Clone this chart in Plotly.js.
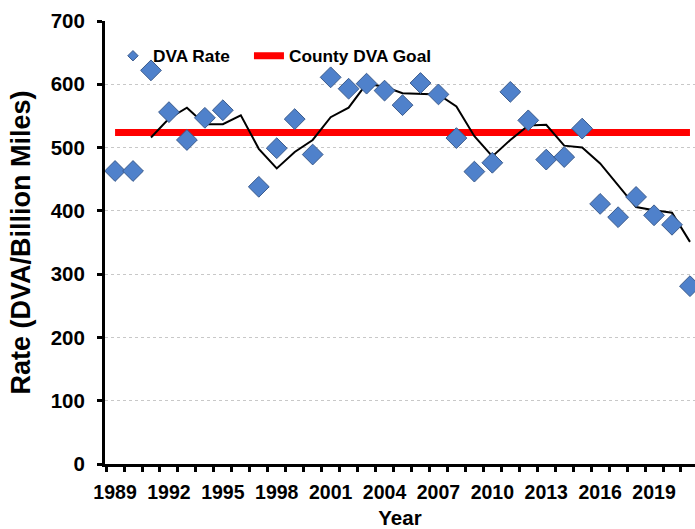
<!DOCTYPE html>
<html>
<head>
<meta charset="utf-8">
<script src="https://cdn.plot.ly/plotly-3.0.1.min.js"></script>
<style>html,body{margin:0;padding:0;background:#fff;}#chart{width:695px;height:529px;}</style>
</head>
<body>
<div id="chart"></div>
<script>
const years = [1989,1990,1991,1992,1993,1994,1995,1996,1997,1998,1999,2000,2001,2002,2003,2004,2005,2006,2007,2008,2009,2010,2011,2012,2013,2014,2015,2016,2017,2018,2019,2020,2021];
const dvaRate = [463,463,622,556,512,547,559,null,438,499,545,489,611,593,601,590,567,602,584,515,462,476,588,543,481,485,530,411,390,422,393,378,281];
const avgYears = [1991,1992,1993,1994,1995,1996,1997,1998,1999,2000,2001,2002,2003,2004,2005,2006,2007,2008,2009,2010,2011,2012,2013,2014,2015,2016,2017,2018,2019,2020,2021];
const movingAvg = [516,546,563,537,537,551,498,467,493,512,548,563,601,596,586,585,584,565,518,486,512,535,536,503,500,475,441,406,401,397,351];
const goalYears = [1989,2021];
const goalValue = [524,524];
const tickYears = [1989,1992,1995,1998,2001,2004,2007,2010,2013,2016,2019];

const blue = '#4F81CB';
const edge = '#3B5B8C';
const fontFam = 'Arial, "Liberation Sans", sans-serif';

const traces = [
  {x: goalYears, y: goalValue, type: 'scatter', mode: 'lines', name: 'County DVA Goal',
   line: {color: '#FF0000', width: 7}, showlegend: false, hoverinfo: 'skip'},
  {x: avgYears, y: movingAvg, type: 'scatter', mode: 'lines', name: 'Moving Average',
   line: {color: '#000000', width: 2}, showlegend: false},
  {x: years, y: dvaRate, type: 'scatter', mode: 'markers', name: 'DVA Rate',
   marker: {symbol: 'diamond', size: 16, color: blue, line: {color: edge, width: 1}}, showlegend: false},
  {x: [null], y: [null], type: 'scatter', mode: 'markers', name: 'DVA Rate', legend: 'legend',
   marker: {symbol: 'diamond', size: 8, color: blue, line: {color: edge, width: 1}}},
  {x: [null], y: [null], type: 'scatter', mode: 'lines', name: 'County DVA Goal', legend: 'legend2',
   line: {color: '#FF0000', width: 7}}
];

const legendFont = {size: 17.3, family: fontFam, weight: 'bold', color: '#000'};

const layout = {
  width: 695, height: 529,
  margin: {l: 105, r: 0, t: 21, b: 65, pad: 0},
  paper_bgcolor: '#fff', plot_bgcolor: '#fff',
  font: {family: fontFam, color: '#000', weight: 'bold'},
  showlegend: true,
  legend: {orientation: 'h', x: 0.0135, y: 0.921, xanchor: 'left', yanchor: 'middle',
           bgcolor: 'rgba(0,0,0,0)', font: legendFont, itemwidth: 30},
  legend2: {orientation: 'h', x: 0.244, y: 0.921, xanchor: 'left', yanchor: 'middle',
           bgcolor: 'rgba(0,0,0,0)', font: legendFont, itemwidth: 30},
  xaxis: {
    range: [1988.44, 2021.28], tickmode: 'array', tickvals: tickYears, ticktext: tickYears.map(String),
    ticks: '', showgrid: false, zeroline: false,
    showline: true, linecolor: '#000', linewidth: 3,
    tickfont: {size: 19.5, family: fontFam, weight: 'bold'},
    ticklabelstandoff: 9,
    minor: {tick0: 1988.5, dtick: 1, ticks: 'outside', ticklen: 5, tickwidth: 3, tickcolor: '#000', showgrid: false},
    title: {text: 'Year', font: {size: 20.5, family: fontFam, weight: 'bold'}, standoff: 21}
  },
  yaxis: {
    range: [0, 700], dtick: 100, tick0: 0,
    ticks: 'outside', ticklen: 5, tickwidth: 3, tickcolor: '#000',
    showline: true, linecolor: '#000', linewidth: 3, zeroline: false,
    showgrid: true, gridcolor: '#c8c8c8', gridwidth: 1, griddash: 'dot',
    tickfont: {size: 20.5, family: fontFam, weight: 'bold'},
    ticklabelstandoff: 8,
    title: {text: 'Rate (DVA/Billion Miles)', font: {size: 27, family: fontFam, weight: 'bold'}, standoff: 13}
  }
};

Plotly.newPlot('chart', traces, layout, {displayModeBar: false, staticPlot: true});
</script>
</body>
</html>
